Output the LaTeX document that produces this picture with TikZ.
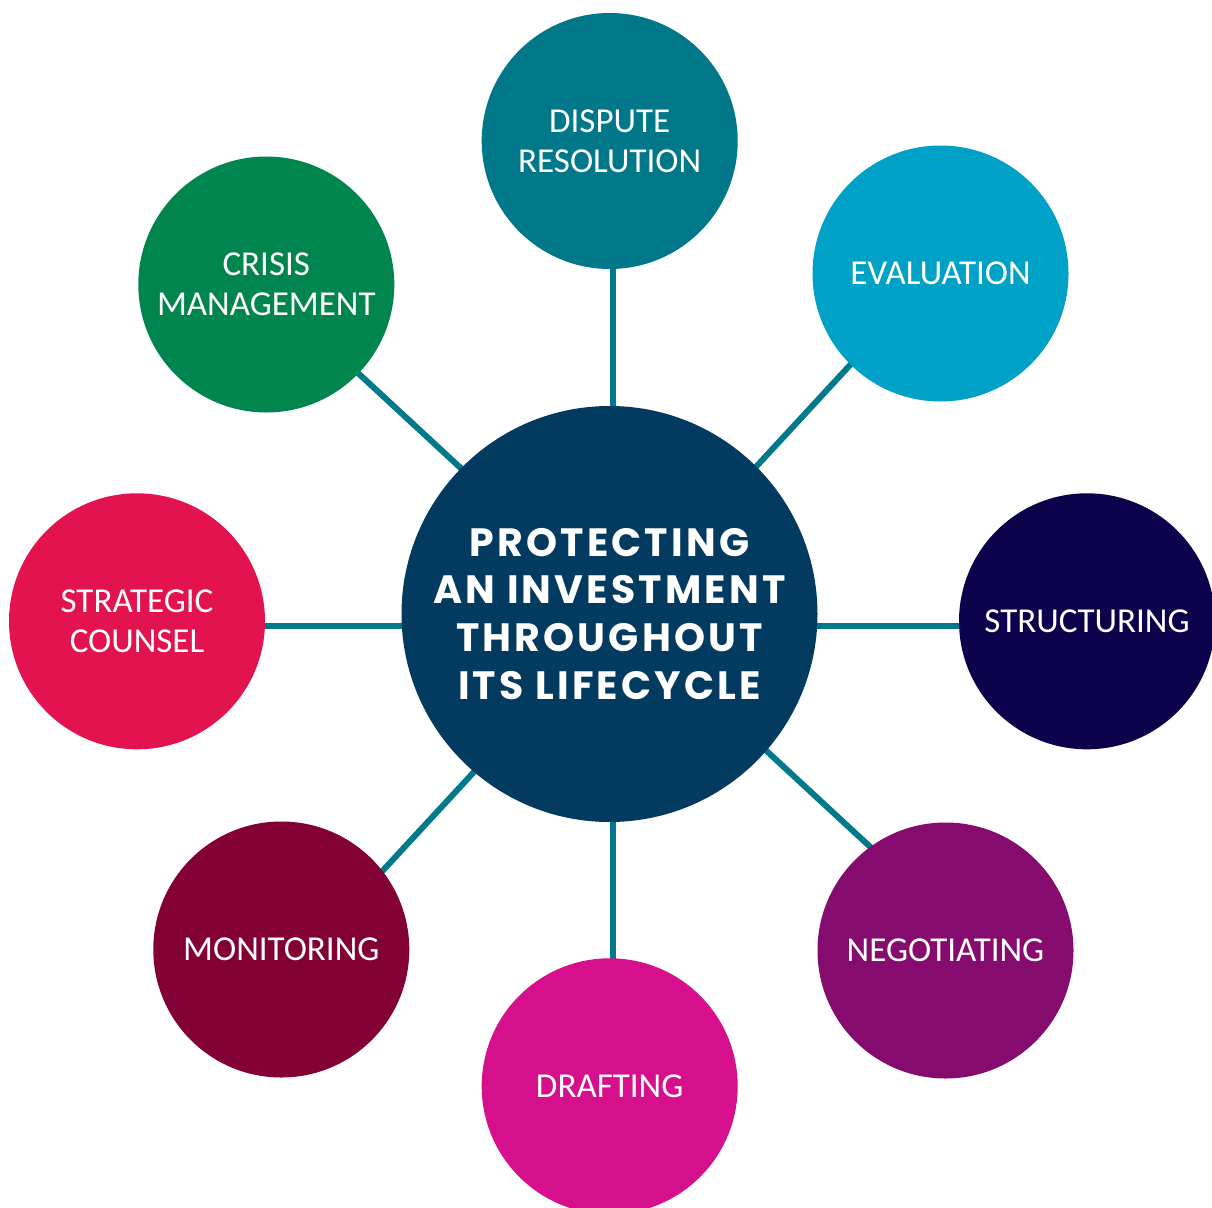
\documentclass[tikz,border=0pt]{standalone}
\usepackage{fontspec}
\setmainfont{Carlito}
\newfontfamily\hubfont{Poppins}[LetterSpace=8]
\usetikzlibrary{backgrounds}
\definecolor{hubblue}{HTML}{023A60}
\definecolor{linkteal}{HTML}{00798B}
\definecolor{cdispute}{HTML}{00788A}
\definecolor{ceval}{HTML}{00A1C6}
\definecolor{cstruct}{HTML}{0B024B}
\definecolor{cnegot}{HTML}{860B6E}
\definecolor{cdraft}{HTML}{D60F8C}
\definecolor{cmonit}{HTML}{830034}
\definecolor{cstrat}{HTML}{E31350}
\definecolor{ccrisis}{HTML}{00854F}
\begin{document}
\begin{tikzpicture}[x=1pt,y=-1pt,
  bubble/.style={circle, inner sep=0pt, minimum size=256pt, text=white, align=center,
    font=\fontsize{35}{40}\selectfont},
  hubnode/.style={circle, inner sep=0pt, minimum size=416pt, fill=hubblue, text=white, align=center,
    font=\hubfont\bfseries\fontsize{39.5}{47.9}\selectfont},
  link/.style={draw=linkteal, line width=6pt}]
\useasboundingbox (0,0) rectangle (1212,1207);
\clip (0,0) rectangle (1212,1207);

\node[hubnode] (hub) at (609.5,614) {PROTECTING\\AN INVESTMENT\\THROUGHOUT\\ITS LIFECYCLE};

\node[bubble, fill=cdispute] (dispute) at (609.7,141) {DISPUTE\\RESOLUTION};
\node[bubble, fill=ceval]    (eval)    at (940.5,273.5) {EVALUATION};
\node[bubble, fill=cstruct]  (struct)  at (1087,621.3) {STRUCTURING};
\node[bubble, fill=cnegot]   (negot)   at (945.5,950.5) {NEGOTIATING};
\node[bubble, fill=cdraft]   (draft)   at (609.7,1086.3) {DRAFTING};
\node[bubble, fill=cmonit]   (monit)   at (281.3,949.5) {MONITORING};
\node[bubble, fill=cstrat]   (strat)   at (137,621.3) {STRATEGIC\\COUNSEL};
\node[bubble, fill=ccrisis]  (crisis)  at (266.3,284.5) {CRISIS\\MANAGEMENT};

\begin{scope}[on background layer]
  \draw[link] ([shift={(3.3,0)}]dispute.center) -- ([shift={(3.3,0)}]draft.center);
  \draw[link] ([shift={(0,4.2)}]strat.center) -- ([shift={(0,4.2)}]struct.center);
  \draw[link] ([shift={(0,3.7)}]crisis.center) -- ([shift={(0,-34)}]negot.center);
  \draw[link] ([shift={(0,30.9)}]monit.center) -- ([shift={(0,-6.3)}]eval.center);
\end{scope}
\end{tikzpicture}
\end{document}
